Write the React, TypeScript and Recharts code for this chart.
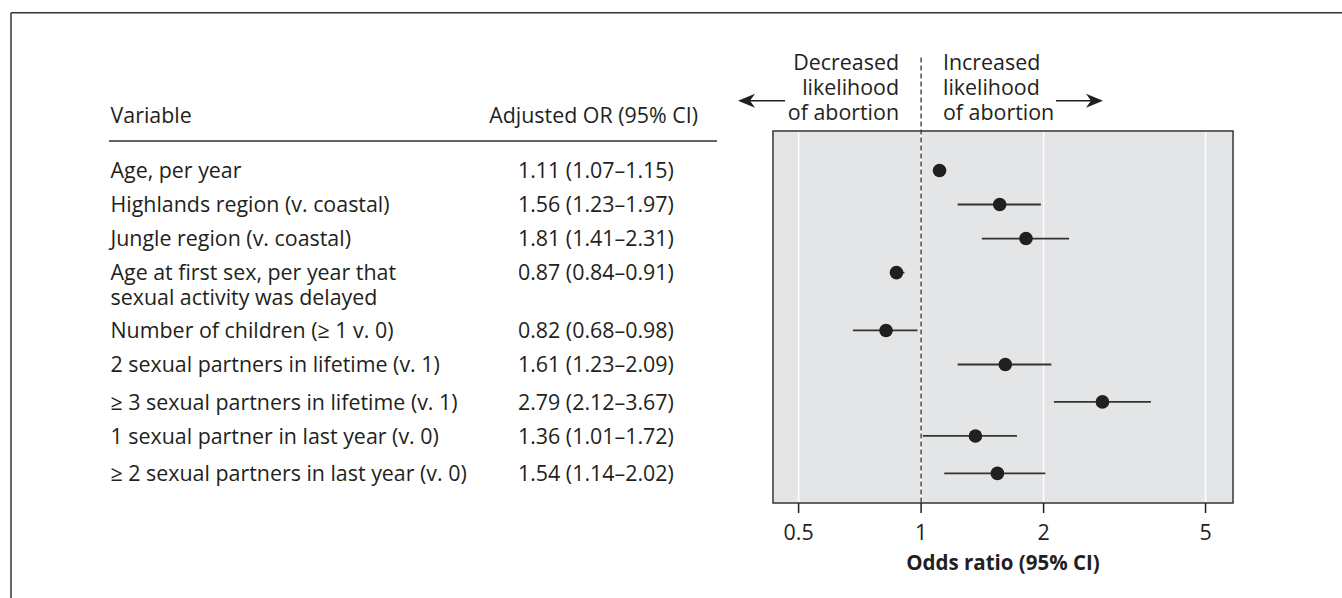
import React from "react";
import {
  ComposedChart,
  Scatter,
  ErrorBar,
  XAxis,
  YAxis,
  CartesianGrid,
  ReferenceLine,
  ReferenceArea,
} from "recharts";

// table rows, top to bottom
const variables = [
  ["Age, per year"],
  ["Highlands region (v. coastal)"],
  ["Jungle region (v. coastal)"],
  ["Age at first sex, per year that", "sexual activity was delayed"],
  ["Number of children (\u2265 1 v. 0)"],
  ["2 sexual partners in lifetime (v. 1)"],
  ["\u2265 3 sexual partners in lifetime (v. 1)"],
  ["1 sexual partner in last year (v. 0)"],
  ["\u2265 2 sexual partners in last year (v. 0)"],
];
const oddsRatio = [1.11, 1.56, 1.81, 0.87, 0.82, 1.61, 2.79, 1.36, 1.54];
const ciLow = [1.07, 1.23, 1.41, 0.84, 0.68, 1.23, 2.12, 1.01, 1.14];
const ciHigh = [1.15, 1.97, 2.31, 0.91, 0.98, 2.09, 3.67, 1.72, 2.02];
// vertical slot of each row (second line of row 4 pushes the rest down)
const rowPos = [0, 1, 2, 3, 4.7, 5.7, 6.8, 7.8, 8.9];
const xTicks = [0.5, 1, 2, 5];

const X_DOMAIN = [0.4326, 5.84];
const Y_DOMAIN = [-1.16, 9.77];
const FONT = "'Open Sans', sans-serif";
const INK = "#231f20";
const FS = 21.4;

const fmt = (v: number) => v.toFixed(2);

const data = oddsRatio.map((or, i) => ({
  or,
  pos: rowPos[i],
  err: [or - ciLow[i], ciHigh[i] - or],
}));

function RowTick(props: any) {
  const { y, payload } = props;
  const i = rowPos.indexOf(payload.value);
  if (i < 0) return null;
  return (
    <g fontFamily={FONT} fontSize={FS} fill={INK}>
      {variables[i].map((line, k) => (
        <text key={k} x={110.5} y={y + 7.7 + k * 25}>
          {line}
        </text>
      ))}
      <text x={518} y={y + 7.7}>
        {`${fmt(oddsRatio[i])} (${fmt(ciLow[i])}\u2013${fmt(ciHigh[i])})`}
      </text>
    </g>
  );
}

function OddsTick(props: any) {
  const { x, payload } = props;
  return (
    <text x={x} y={540} textAnchor="middle" fontFamily={FONT} fontSize={FS} fill={INK}>
      {payload.value}
    </text>
  );
}

const Dot = (props: any) => <circle cx={props.cx} cy={props.cy} r={6.8} fill={INK} />;

function Arrow({ x1, x2, y }: { x1: number; x2: number; y: number }) {
  const d = x2 > x1 ? 1 : -1;
  return (
    <g>
      <line x1={x1} y1={y} x2={x2 - d * 8} y2={y} stroke={INK} strokeWidth={1.5} />
      <path
        d={`M${x2},${y} L${x2 - d * 17},${y - 7} L${x2 - d * 12},${y} L${x2 - d * 17},${y + 7} Z`}
        fill={INK}
      />
    </g>
  );
}

export default function App() {
  return (
    <div style={{ position: "absolute", left: 0, top: 0, width: 1342, height: 598, background: "#fff" }}>
      <div style={{ position: "absolute", left: 0, top: 0 }}>
        <ComposedChart
          width={1342}
          height={598}
          data={data}
          margin={{ top: 131, right: 109, bottom: 0, left: 0 }}
        >
          <CartesianGrid fill="#e4e5e7" stroke="#ffffff" strokeWidth={1.5} horizontal={false} />
          <XAxis
            type="number"
            dataKey="or"
            scale="log"
            domain={X_DOMAIN}
            allowDataOverflow
            ticks={xTicks}
            height={95}
            axisLine={false}
            tickSize={10}
            tickLine={{ stroke: INK, strokeWidth: 1.5 }}
            tick={<OddsTick />}
            interval={0}
          />
          <YAxis
            type="number"
            dataKey="pos"
            domain={Y_DOMAIN}
            reversed
            allowDataOverflow
            ticks={rowPos}
            interval={0}
            width={773}
            axisLine={false}
            tickLine={false}
            tick={<RowTick />}
          />
          <ReferenceArea
            x1={X_DOMAIN[0]}
            x2={X_DOMAIN[1]}
            y1={Y_DOMAIN[0]}
            y2={Y_DOMAIN[1]}
            fill="none"
            stroke="#333"
            strokeWidth={1.5}
            ifOverflow="visible"
          />
          <ReferenceLine
            segment={[
              { x: 1, y: -3.32 },
              { x: 1, y: Y_DOMAIN[1] },
            ]}
            stroke="#333"
            strokeWidth={1.3}
            strokeDasharray="5 3"
            ifOverflow="visible"
          />
          <Scatter dataKey="or" shape={<Dot />} isAnimationActive={false}>
            <ErrorBar dataKey="err" direction="x" width={0} stroke="#333" strokeWidth={1.8} />
          </Scatter>
        </ComposedChart>
      </div>
      <svg
        width={1342}
        height={598}
        style={{ position: "absolute", left: 0, top: 0, pointerEvents: "none" }}
        fontFamily={FONT}
        fill={INK}
      >
        <line x1={11} y1={12.7} x2={1342} y2={12.7} stroke="#333" strokeWidth={1.5} />
        <line x1={11} y1={12.7} x2={11} y2={598} stroke="#333" strokeWidth={1.5} />
        <text x={110.5} y={122.7} fontSize={FS}>Variable</text>
        <text x={698} y={122.7} fontSize={FS} textAnchor="end">Adjusted OR (95% CI)</text>
        <line x1={109} y1={141} x2={717} y2={141} stroke="#333" strokeWidth={1.5} />
        <g fontSize={FS}>
          <text x={899} y={70} textAnchor="end">Decreased</text>
          <text x={899} y={95} textAnchor="end">likelihood</text>
          <text x={899} y={120} textAnchor="end">of abortion</text>
          <text x={943} y={70}>Increased</text>
          <text x={943} y={95}>likelihood</text>
          <text x={943} y={120}>of abortion</text>
        </g>
        <Arrow x1={785} x2={738} y={100.7} />
        <Arrow x1={1056} x2={1103} y={100.7} />
        <text x={1003} y={570} textAnchor="middle" fontSize={20.5} fontWeight="bold">
          Odds ratio (95% CI)
        </text>
      </svg>
    </div>
  );
}
